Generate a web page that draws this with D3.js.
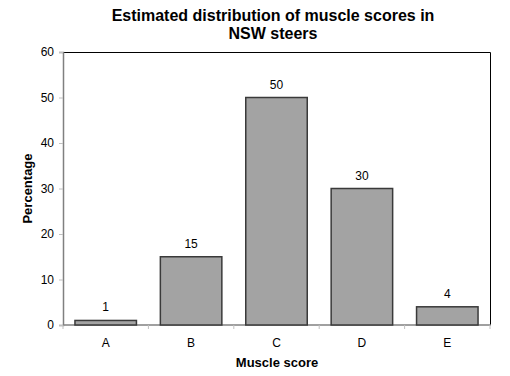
<!DOCTYPE html>
<html>
<head>
<meta charset="utf-8">
<script src="https://cdn.jsdelivr.net/npm/d3@7"></script>
<style>
  body { margin: 0; background: #fff; }
  svg { font-family: "Liberation Sans", Arial, sans-serif; }
</style>
</head>
<body>
<div id="chart"></div>
<script>
var categories = ["A", "B", "C", "D", "E"];
var percentages = [1, 15, 50, 30, 4];
var yTicks = [0, 10, 20, 30, 40, 50, 60];

var width = 510,
    height = 376;
var margin = {top: 52, right: 20, bottom: 51, left: 63};
var plotW = width - margin.left - margin.right,
    plotH = height - margin.top - margin.bottom;

var svg = d3.select("#chart").append("svg")
    .attr("width", width)
    .attr("height", height);

// title
var title = svg.append("text")
    .attr("text-anchor", "middle")
    .style("font-size", "16px")
    .style("font-weight", "bold");
title.append("tspan").attr("x", 273).attr("y", 21).text("Estimated distribution of muscle scores in");
title.append("tspan").attr("x", 273).attr("y", 39).text("NSW steers");

var g = svg.append("g")
    .attr("transform", "translate(" + margin.left + "," + margin.top + ")");

var x = d3.scaleBand().domain(categories).range([0, plotW]).paddingInner(0.28).paddingOuter(0.14);
var xBound = d3.scaleLinear().domain([0, categories.length]).range([0, plotW]);
var y = d3.scaleLinear().domain([0, 60]).range([plotH, 0]);

// plot frame: top and right black
g.append("path")
    .attr("d", "M0,0.5H" + (plotW + 0.5) + "V" + plotH)
    .attr("fill", "none")
    .attr("stroke", "#000")
    .attr("stroke-width", 1);

// y axis
var yAxis = d3.axisLeft(y).tickValues(yTicks).tickSize(4).tickPadding(5);
var yg = g.append("g").call(yAxis);
yg.select(".domain").attr("stroke", "#808080").attr("stroke-width", 1.5);
yg.selectAll(".tick line").attr("stroke", "#c0c0c0");
yg.selectAll("text").style("font-size", "12px").attr("fill", "#000");

// x axis ticks at category boundaries
g.append("line")
    .attr("x1", 0).attr("x2", plotW + 1)
    .attr("y1", plotH).attr("y2", plotH)
    .attr("stroke", "#808080").attr("stroke-width", 1.5);
g.selectAll(".xtick")
    .data(d3.range(categories.length + 1))
    .enter().append("line")
    .attr("x1", function(d) { return xBound(d); })
    .attr("x2", function(d) { return xBound(d); })
    .attr("y1", plotH).attr("y2", plotH + 4)
    .attr("stroke", "#c0c0c0");
g.selectAll(".xlab")
    .data(categories)
    .enter().append("text")
    .attr("x", function(d) { return x(d) + x.bandwidth() / 2; })
    .attr("y", plotH + 22)
    .attr("text-anchor", "middle")
    .style("font-size", "12px")
    .text(function(d) { return d; });

// bars
g.selectAll(".bar")
    .data(percentages)
    .enter().append("rect")
    .attr("class", "bar")
    .attr("x", function(d, i) { return x(categories[i]); })
    .attr("y", function(d) { return y(d); })
    .attr("width", x.bandwidth())
    .attr("height", function(d) { return plotH - y(d); })
    .attr("fill", "#a3a3a3")
    .attr("stroke", "#3a3a3a")
    .attr("stroke-width", 1.5);

// value labels
g.selectAll(".val")
    .data(percentages)
    .enter().append("text")
    .attr("x", function(d, i) { return x(categories[i]) + x.bandwidth() / 2; })
    .attr("y", function(d) { return y(d) - 9; })
    .attr("text-anchor", "middle")
    .style("font-size", "12px")
    .text(function(d) { return d; });

// axis titles
svg.append("text")
    .attr("transform", "translate(32," + (margin.top + plotH / 2) + ") rotate(-90)")
    .attr("text-anchor", "middle")
    .style("font-size", "13px")
    .style("font-weight", "bold")
    .text("Percentage");

svg.append("text")
    .attr("x", 277)
    .attr("y", 367)
    .attr("text-anchor", "middle")
    .style("font-size", "13px")
    .style("font-weight", "bold")
    .text("Muscle score");
</script>
</body>
</html>
